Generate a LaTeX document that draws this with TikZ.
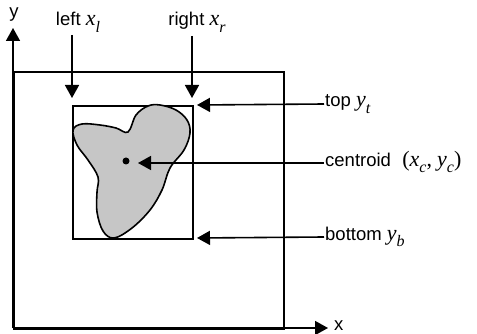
\documentclass[tikz,border=0pt]{standalone}
\usepackage{fontspec}
\setmainfont{Liberation Sans}
\newfontfamily\tms{Liberation Serif}
\newcommand\mvar[2]{{\tms\itshape\fontsize{22}{22}\selectfont #1\raisebox{-0.3em}{\fontsize{16}{16}\selectfont #2}}}
\usetikzlibrary{arrows.meta}
\begin{document}
\begin{tikzpicture}[x=1pt,y=-1pt,
  arr/.style={line width=1.6pt,-{Triangle[length=13pt,width=14pt]}},
  lbl/.style={font=\fontsize{18.5}{20}\selectfont, inner sep=1pt},
  box/.style={draw,line width=1.7pt,inner sep=0pt,anchor=north west}]
\useasboundingbox (0,0) rectangle (477,334);
% outer rectangle
\node[box,minimum width=270pt,minimum height=257pt] (outer) at (13,71) {};
% inner bounding box
\node[box,minimum width=120pt,minimum height=133pt] (inner) at (72,105) {};
% blob
\draw[line width=1.6pt,fill=gray!45] plot[smooth cycle,tension=0.6] coordinates {
 (73,130) (82,124) (100,125) (116,128) (128,132) (136,115) (148,106) (160,105)
 (176,110) (187,120) (190,133) (184,150) (170,168) (162,190) (150,210)
 (132,228) (114,238) (103,231) (97,212) (97,192) (98,177) (88,160) (77,145)};
\node[circle,fill=black,inner sep=0pt,minimum size=7pt] (dot) at (126,161) {};
% axes
\coordinate (o) at (13,328);
\coordinate (ytip) at (13,28);
\coordinate (xtip) at (328,328);
\draw[arr] (o) -- (ytip);
\draw[arr] (o) -- (xtip);
\node[lbl] (ylab) at (14,15) {y};
\node[lbl,anchor=west] (xlab) at (333,326) {x};
% labels
\node[lbl] (left) at (78,22) {left \mvar{x}{l}};
\node[lbl] (right) at (197,22) {right \mvar{x}{r}};
\node[lbl,anchor=west] (top) at (324,104) {top \mvar{y}{t}};
\node[lbl,anchor=west] (cen) at (324,162) {centroid\,\, {\tms\fontsize{22}{22}\selectfont(}\mvar{x}{c}{\tms\fontsize{22}{22}\selectfont,} \mvar{y}{c}{\tms\fontsize{22}{22}\selectfont)}};
\node[lbl,anchor=west] (bot) at (324,237) {bottom \mvar{y}{b}};
% arrow targets
\coordinate (tl) at (72,98);
\coordinate (tr) at (192,98);
\coordinate (tt) at (197,105);
\coordinate (tc) at (138,163);
\coordinate (tb) at (197,238);
\coordinate (sl) at (72,35);
\coordinate (sr) at (192,36);
\draw[arr] (sl) -- (tl);
\draw[arr] (sr) -- (tr);
\draw[arr] (top.west) -- (tt);
\draw[arr] (cen.west |- tc) -- (tc);
\draw[arr] (bot.west) -- (tb);
\end{tikzpicture}
\end{document}
